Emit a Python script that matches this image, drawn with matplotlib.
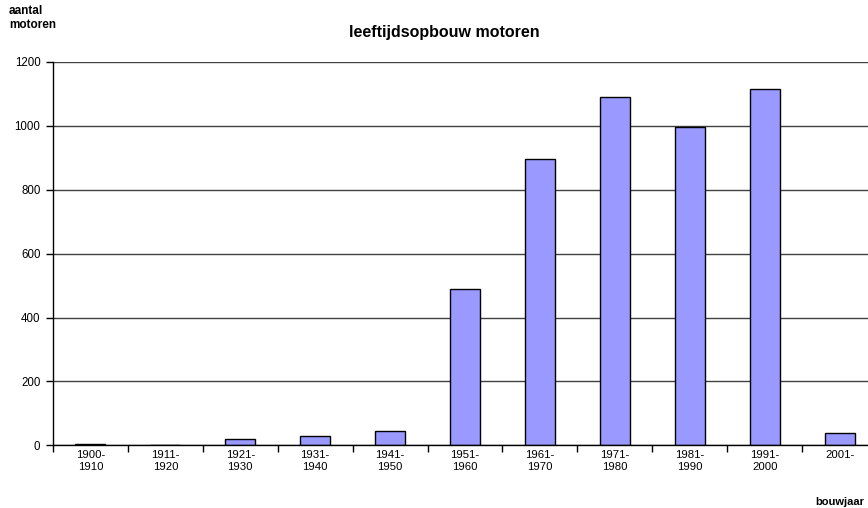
import matplotlib
matplotlib.use("Agg")
import matplotlib.pyplot as plt
import numpy as np

# data
categories = ["1900-\n1910", "1911-\n1920", "1921-\n1930", "1931-\n1940", "1941-\n1950",
              "1951-\n1960", "1961-\n1970", "1971-\n1980", "1981-\n1990", "1991-\n2000", "2001-"]
counts = [4, 0, 19, 29, 46, 489, 896, 1089, 996, 1116, 37]
y_ticks = [0, 200, 400, 600, 800, 1000, 1200]

plt.rcParams['font.family'] = ['Liberation Sans', 'DejaVu Sans']

fig = plt.figure(figsize=(8.68, 5.08), dpi=100)
ax = fig.add_axes([53 / 868, 1 - 445.3 / 508, 824 / 868, 383.3 / 508])

x = np.arange(len(categories))
ax.bar(x, counts, width=0.4, color="#9999ff", edgecolor="black", linewidth=1.0, zorder=3)

ax.set_xlim(-0.5, len(categories) - 0.5)
ax.set_ylim(0, 1200)
ax.set_yticks(y_ticks)
ax.set_yticklabels([str(v) for v in y_ticks], fontsize=8.3)
ax.yaxis.grid(True, color="#404040", linewidth=1.0, zorder=0)

# boundary ticks without labels, centred labels without ticks
ax.set_xticks(np.arange(len(categories) + 1) - 0.5)
ax.set_xticklabels([])
ax.set_xticks(x, minor=True)
ax.set_xticklabels(categories, minor=True, fontsize=8.2)
ax.tick_params(axis="x", which="major", length=5, width=1, direction="out")
ax.tick_params(axis="x", which="minor", length=0, pad=3.5)
ax.tick_params(axis="y", length=5, width=1, direction="out", pad=4)

for s in ["top", "right"]:
    ax.spines[s].set_visible(False)
ax.spines["left"].set_linewidth(1.0)
ax.spines["bottom"].set_linewidth(1.0)
ax.spines["bottom"].set_zorder(4)

fig.text(444 / 868, 1 - 33 / 508, "leeftijdsopbouw motoren", ha="center", va="center",
         fontsize=11.5, fontweight="bold")
fig.text(9 / 868, 1 - 18 / 508, "aantal\nmotoren", ha="left", va="center",
         fontsize=8.5, fontweight="bold")
fig.text(864 / 868, 1 - 502 / 508, "bouwjaar", ha="right", va="center",
         fontsize=8, fontweight="bold")

fig.savefig("out.png", dpi=100)
